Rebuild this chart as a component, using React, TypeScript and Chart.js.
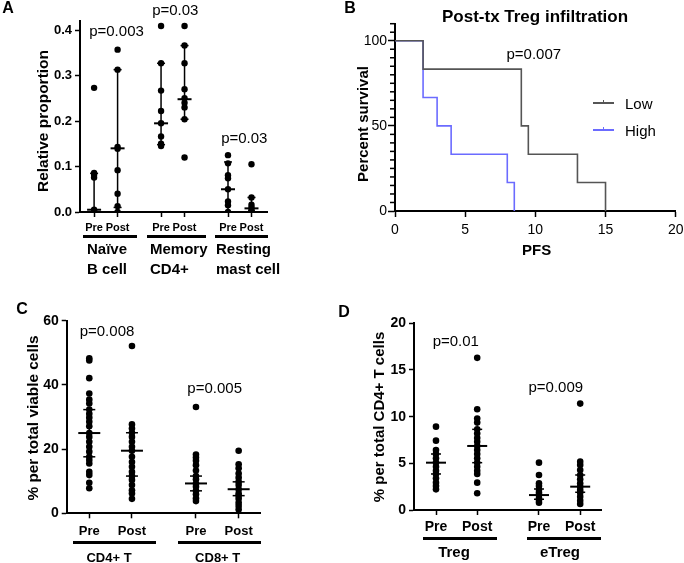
import React, { useEffect, useRef } from 'react';
import { Chart, registerables } from 'chart.js';

Chart.register(...registerables);

const FONT = '"Liberation Sans", Arial, Helvetica, sans-serif';

// ===== Panel A =====
const aXPositions = [0, 1, 2.85, 3.85, 5.7, 6.7];
const aXTickLabels = ['Pre', 'Post', 'Pre', 'Post', 'Pre', 'Post'];
const aYTicks = [0, 0.1, 0.2, 0.3, 0.4];
const aNaiveBPre = [0.273, 0.086, 0.082, 0.076, 0.005, 0.003, 0.0, 0.0];
const aNaiveBPost = [0.357, 0.313, 0.143, 0.139, 0.092, 0.04, 0.013, 0.0];
const aMemoryCD4Pre = [0.409, 0.327, 0.267, 0.222, 0.195, 0.166, 0.15, 0.145];
const aMemoryCD4Post = [0.409, 0.366, 0.327, 0.27, 0.25, 0.24, 0.23, 0.204, 0.12];
const aRestingMastPre = [0.125, 0.107, 0.081, 0.074, 0.05, 0.023, 0.015, 0.0];
const aRestingMastPost = [0.105, 0.032, 0.016, 0.01, 0.005, 0.0, 0.0, 0.0];
const aMedians = [0.005, 0.14, 0.195, 0.248, 0.05, 0.008];
const aLower = [0.0, 0.01, 0.148, 0.204, 0.0, 0.0];
const aUpper = [0.085, 0.313, 0.327, 0.366, 0.11, 0.032];
const aGroupNames = [['Naïve', 'B cell'], ['Memory', 'CD4+'], ['Resting', 'mast cell']];
const aPValues = ['p=0.003', 'p=0.03', 'p=0.03'];

// ===== Panel B =====
const bLowTimes = [0, 2, 9, 9.5, 13, 15];
const bLowSurvival = [100, 83.3, 50, 33.3, 16.7, 0];
const bHighTimes = [0, 2, 3, 4, 8, 8.5];
const bHighSurvival = [100, 66.7, 50, 33.3, 16.7, 0];
const bXTicks = [0, 5, 10, 15, 20];
const bYTicks = [0, 50, 100];
const bYMinorStep = 5;
const bSeriesNames = ['Low', 'High'];

// ===== Panel C =====
const cXPositions = [0, 1, 2.5, 3.5];
const cXTickLabels = ['Pre', 'Post', 'Pre', 'Post'];
const cYTicks = [0, 20, 40, 60];
const cCD4Pre = [48.3, 47.6, 42.1, 37.3, 35.4, 34.2, 32.3, 31.0, 29.8, 28.5, 27.1, 25.0, 23.8, 22.3, 20.7, 19.2, 17.6, 16.6, 15.5, 12.9, 11.9, 9.5, 7.8];
const cCD4Post = [52.1, 27.7, 26.4, 25.1, 23.8, 22.3, 20.7, 19.5, 17.6, 16.0, 14.5, 12.9, 11.6, 10.4, 8.8, 7.2, 6.2, 4.5];
const cCD8Pre = [33.1, 18.3, 17.4, 16.4, 15.0, 13.3, 11.6, 10.6, 9.3, 8.3, 7.0, 5.9, 4.7, 3.8];
const cCD8Post = [19.5, 15.3, 14.0, 12.4, 11.1, 9.8, 8.8, 7.5, 6.2, 5.5, 4.5, 3.3, 2.3, 1.2];
const cMedians = [25.0, 19.5, 9.3, 7.5];
const cLower = [17.6, 11.6, 7.0, 5.5];
const cUpper = [32.3, 25.1, 11.6, 9.8];
const cGroupNames = ['CD4+ T', 'CD8+ T'];
const cPValues = ['p=0.008', 'p=0.005'];

// ===== Panel D =====
const dXPositions = [0, 1, 2.5, 3.5];
const dXTickLabels = ['Pre', 'Post', 'Pre', 'Post'];
const dYTicks = [0, 5, 10, 15, 20];
const dTregPre = [8.93, 7.43, 6.43, 6.0, 5.54, 5.07, 4.64, 4.21, 3.86, 3.39, 2.93, 2.57, 2.21];
const dTregPost = [16.3, 10.8, 9.8, 9.36, 8.64, 8.2, 7.7, 7.3, 6.86, 6.43, 6.0, 5.54, 5.07, 4.64, 4.2, 3.86, 2.93, 1.79];
const dETregPre = [5.07, 3.75, 2.86, 2.57, 2.2, 1.86, 1.6, 1.25, 1.07, 0.79];
const dETregPost = [11.4, 5.18, 4.82, 4.29, 3.75, 3.29, 2.86, 2.5, 2.14, 1.86, 1.43, 1.0, 0.64];
const dMedians = [5.07, 6.86, 1.6, 2.5];
const dLower = [3.86, 5.07, 1.15, 1.9];
const dUpper = [6.0, 8.64, 2.25, 3.75];
const dGroupNames = ['Treg', 'eTreg'];
const dPValues = ['p=0.01', 'p=0.009'];

const LOW_COLOR = '#555555';
const HIGH_COLOR = '#6b6bff';

type Box = { left: number; top: number; right: number; bottom: number };

function fitY(size: number) {
  return (s: any) => {
    s.width = size;
    s.paddingLeft = 0; s.paddingRight = 0; s.paddingTop = 0; s.paddingBottom = 0;
  };
}
function fitX(size: number) {
  return (s: any) => {
    s.height = size;
    s.paddingLeft = 0; s.paddingRight = 0; s.paddingTop = 0; s.paddingBottom = 0;
  };
}
function axisLook(tickLength: number) {
  return {
    grid: { display: true, drawOnChartArea: false, drawTicks: true, tickLength, tickColor: '#000', tickWidth: 1.5, color: '#000' },
    border: { display: true, color: '#000', width: 2 },
  };
}
function padFor(w: number, h: number, area: Box, yW: number, xH: number) {
  return { left: area.left - yW, top: area.top, right: w - area.right, bottom: h - area.bottom - xH };
}

interface SwarmSpec {
  w: number; h: number; area: Box; yW: number; xH: number;
  xMin: number; xMax: number; xPos: number[]; xLabels: string[]; xFont: number; xPad: number;
  yMin: number; yMax: number; yTicks: number[]; yFont: number; yPad: number; yFmt: (v: number) => string;
  series: number[][]; med: number[]; lo: number[]; hi: number[];
  r: number; medHalf: number; capHalf: number;
}

function swarmConfig(p: SwarmSpec): any {
  const datasets = p.series.map((vals, i) => ({
    data: vals.map((v) => ({ x: p.xPos[i], y: v })),
    backgroundColor: '#000',
    borderColor: '#000',
    borderWidth: 0,
    pointRadius: p.r,
    pointHoverRadius: p.r,
  }));
  const errorBars = {
    id: 'errorBars',
    afterDatasetsDraw(chart: any) {
      const { ctx, scales } = chart;
      const xs = scales.x;
      const ys = scales.y;
      const seg = (x1: number, y1: number, x2: number, y2: number) => {
        ctx.beginPath(); ctx.moveTo(x1, y1); ctx.lineTo(x2, y2); ctx.stroke();
      };
      ctx.save();
      ctx.strokeStyle = '#000';
      p.xPos.forEach((xv, i) => {
        const px = xs.getPixelForValue(xv);
        const pm = ys.getPixelForValue(p.med[i]);
        const pl = ys.getPixelForValue(p.lo[i]);
        const ph = ys.getPixelForValue(p.hi[i]);
        ctx.lineWidth = 1.5;
        seg(px, pl, px, ph);
        seg(px - p.capHalf, pl, px + p.capHalf, pl);
        seg(px - p.capHalf, ph, px + p.capHalf, ph);
        ctx.lineWidth = 2;
        seg(px - p.medHalf, pm, px + p.medHalf, pm);
      });
      ctx.restore();
    },
  };
  return {
    type: 'scatter',
    data: { datasets },
    options: {
      responsive: false,
      animation: false,
      events: [],
      layout: { padding: padFor(p.w, p.h, p.area, p.yW, p.xH) },
      plugins: { legend: { display: false }, tooltip: { enabled: false } },
      scales: {
        x: {
          type: 'linear', min: p.xMin, max: p.xMax,
          afterBuildTicks: (s: any) => { s.ticks = p.xPos.map((v) => ({ value: v })); },
          afterFit: fitX(p.xH),
          ticks: {
            autoSkip: false, maxRotation: 0, color: '#000', padding: p.xPad,
            font: { family: FONT, size: p.xFont, weight: 'bold' },
            callback: (_v: any, i: number) => p.xLabels[i],
          },
          ...axisLook(5),
        },
        y: {
          type: 'linear', min: p.yMin, max: p.yMax,
          afterBuildTicks: (s: any) => { s.ticks = p.yTicks.map((v) => ({ value: v })); },
          afterFit: fitY(p.yW),
          ticks: {
            color: '#000', padding: p.yPad,
            font: { family: FONT, size: p.yFont, weight: 'bold' },
            callback: (v: any) => p.yFmt(Number(v)),
          },
          ...axisLook(5),
        },
      },
    },
    plugins: [errorBars],
  };
}

function kmConfig(): any {
  const w = 344, h = 280;
  const area = { left: 55, top: 23.7, right: 335.7, bottom: 211 };
  const yW = 40, xH = 45;
  const minorTicks = {
    id: 'minorTicks',
    afterDraw(chart: any) {
      const { ctx, chartArea, scales } = chart;
      const ys = scales.y;
      ctx.save();
      ctx.strokeStyle = '#000';
      ctx.lineWidth = 1.5;
      for (let v = ys.min; v <= ys.max + 1e-9; v += bYMinorStep) {
        if (bYTicks.includes(v)) continue;
        const py = ys.getPixelForValue(v);
        ctx.beginPath();
        ctx.moveTo(chartArea.left - 5, py);
        ctx.lineTo(chartArea.left, py);
        ctx.stroke();
      }
      ctx.restore();
    },
  };
  return {
    type: 'scatter',
    data: {
      datasets: [
        {
          label: bSeriesNames[0],
          data: bLowTimes.map((t, i) => ({ x: t, y: bLowSurvival[i] })),
          showLine: true, stepped: 'before', borderColor: LOW_COLOR, borderWidth: 1.6,
          pointRadius: 0, fill: false,
        },
        {
          label: bSeriesNames[1],
          data: bHighTimes.map((t, i) => ({ x: t, y: bHighSurvival[i] })),
          showLine: true, stepped: 'before', borderColor: HIGH_COLOR, borderWidth: 1.6,
          pointRadius: 0, fill: false,
        },
      ],
    },
    options: {
      responsive: false,
      animation: false,
      events: [],
      layout: { padding: padFor(w, h, area, yW, xH) },
      plugins: { legend: { display: false }, tooltip: { enabled: false } },
      scales: {
        x: {
          type: 'linear', min: 0, max: 20,
          afterBuildTicks: (s: any) => { s.ticks = bXTicks.map((v) => ({ value: v })); },
          afterFit: fitX(xH),
          ticks: { autoSkip: false, maxRotation: 0, color: '#000', padding: 5, font: { family: FONT, size: 14 } },
          ...axisLook(6),
        },
        y: {
          type: 'linear', min: 0, max: 110,
          afterBuildTicks: (s: any) => { s.ticks = bYTicks.map((v) => ({ value: v })); },
          afterFit: fitY(yW),
          ticks: { color: '#000', padding: 1, font: { family: FONT, size: 14 } },
          ...axisLook(7),
        },
      },
    },
    plugins: [minorTicks],
  };
}

function ChartCanvas(props: { left: number; top: number; width: number; height: number; build: () => any }) {
  const ref = useRef<HTMLCanvasElement | null>(null);
  useEffect(() => {
    const chart = new Chart(ref.current as HTMLCanvasElement, props.build());
    return () => chart.destroy();
  }, []);
  return (
    <canvas
      ref={ref}
      width={props.width}
      height={props.height}
      style={{ position: 'absolute', left: props.left, top: props.top, width: props.width, height: props.height }}
    />
  );
}

function T(props: { x: number; y: number; size: number; bold?: boolean; rotate?: boolean; left?: boolean; children: React.ReactNode }) {
  const tx = props.left ? '0' : '-50%';
  return (
    <div
      style={{
        position: 'absolute', left: props.x, top: props.y, fontSize: props.size,
        fontWeight: props.bold ? 700 : 400, lineHeight: 1, whiteSpace: 'nowrap',
        fontFamily: FONT, color: '#000',
        transform: `translate(${tx}, -50%)` + (props.rotate ? ' rotate(-90deg)' : ''),
      }}
    >
      {props.children}
    </div>
  );
}

function Bar(props: { x1: number; x2: number; y: number }) {
  return <div style={{ position: 'absolute', left: props.x1, top: props.y - 1.5, width: props.x2 - props.x1, height: 3, background: '#000' }} />;
}

function LegendItem(props: { y: number; color: string; label: string }) {
  return (
    <>
      <div style={{ position: 'absolute', left: 593, top: props.y - 0.75, width: 21, height: 1.5, background: props.color }} />
      <div style={{ position: 'absolute', left: 602.5, top: props.y - 3.5, width: 1.2, height: 3.5, background: props.color }} />
      <T x={625} y={props.y} size={15} left>{props.label}</T>
    </>
  );
}

export default function App() {
  const buildA = () => swarmConfig({
    w: 340, h: 280, area: { left: 80, top: 21, right: 267, bottom: 212 }, yW: 40, xH: 40,
    xMin: -0.6, xMax: 7.36, xPos: aXPositions, xLabels: aXTickLabels, xFont: 11, xPad: 4,
    yMin: 0, yMax: 0.42, yTicks: aYTicks, yFont: 13, yPad: 3, yFmt: (v) => v.toFixed(1),
    series: [aNaiveBPre, aNaiveBPost, aMemoryCD4Pre, aMemoryCD4Post, aRestingMastPre, aRestingMastPost],
    med: aMedians, lo: aLower, hi: aUpper, r: 3.2, medHalf: 7, capHalf: 4,
  });
  const buildC = () => swarmConfig({
    w: 340, h: 283, area: { left: 66.7, top: 40.7, right: 260, bottom: 233.3 }, yW: 40, xH: 30,
    xMin: -0.529, xMax: 4.0, xPos: cXPositions, xLabels: cXTickLabels, xFont: 13, xPad: 5,
    yMin: 0, yMax: 60, yTicks: cYTicks, yFont: 14, yPad: 3, yFmt: (v) => String(v),
    series: [cCD4Pre, cCD4Post, cCD8Pre, cCD8Post],
    med: cMedians, lo: cLower, hi: cUpper, r: 3.3, medHalf: 11, capHalf: 6,
  });
  const buildD = () => swarmConfig({
    w: 344, h: 283, area: { left: 74, top: 43.3, right: 261, bottom: 230 }, yW: 40, xH: 30,
    xMin: -0.534, xMax: 4.005, xPos: dXPositions, xLabels: dXTickLabels, xFont: 14, xPad: 3.5,
    yMin: 0, yMax: 20, yTicks: dYTicks, yFont: 14, yPad: 3, yFmt: (v) => String(v),
    series: [dTregPre, dTregPost, dETregPre, dETregPost],
    med: dMedians, lo: dLower, hi: dUpper, r: 3.3, medHalf: 10, capHalf: 5,
  });

  return (
    <div style={{ position: 'fixed', left: 0, top: 0, width: 684, height: 563, background: '#fff', overflow: 'hidden', fontFamily: FONT }}>
      <ChartCanvas left={0} top={0} width={340} height={280} build={buildA} />
      <ChartCanvas left={340} top={0} width={344} height={280} build={kmConfig} />
      <ChartCanvas left={0} top={280} width={340} height={283} build={buildC} />
      <ChartCanvas left={340} top={280} width={344} height={283} build={buildD} />

      {/* Panel A texts */}
      <T x={8} y={8} size={16} bold>A</T>
      <T x={43} y={121} size={15.5} bold rotate>Relative proportion</T>
      <T x={116.5} y={30} size={15}>{aPValues[0]}</T>
      <T x={175.3} y={8.5} size={15}>{aPValues[1]}</T>
      <T x={244.3} y={136.7} size={15}>{aPValues[2]}</T>
      <Bar x1={83} x2={137} y={236} />
      <Bar x1={147} x2={206} y={236} />
      <Bar x1={215} x2={268} y={236} />
      <T x={87} y={248} size={15} bold left>{aGroupNames[0][0]}</T>
      <T x={87} y={268} size={15} bold left>{aGroupNames[0][1]}</T>
      <T x={150} y={248} size={15} bold left>{aGroupNames[1][0]}</T>
      <T x={150} y={268} size={15} bold left>{aGroupNames[1][1]}</T>
      <T x={216} y={248} size={15} bold left>{aGroupNames[2][0]}</T>
      <T x={216} y={268} size={15} bold left>{aGroupNames[2][1]}</T>

      {/* Panel B texts */}
      <T x={350} y={8} size={16} bold>B</T>
      <T x={535} y={16} size={17} bold>Post-tx Treg infiltration</T>
      <T x={361.7} y={124} size={15} bold rotate>Percent survival</T>
      <T x={536.7} y={249} size={15} bold>PFS</T>
      <T x={533.8} y={53.3} size={15}>p=0.007</T>
      <LegendItem y={103} color={LOW_COLOR} label={bSeriesNames[0]} />
      <LegendItem y={130} color={HIGH_COLOR} label={bSeriesNames[1]} />

      {/* Panel C texts */}
      <T x={22} y={309} size={16} bold>C</T>
      <T x={33.3} y={417.5} size={15.4} bold rotate>% per total viable cells</T>
      <T x={107} y={330} size={15}>{cPValues[0]}</T>
      <T x={214.7} y={387.3} size={15}>{cPValues[1]}</T>
      <Bar x1={73} x2={156} y={542} />
      <Bar x1={178} x2={261} y={542} />
      <T x={109} y={557.3} size={13} bold>{cGroupNames[0]}</T>
      <T x={217.7} y={557.3} size={13} bold>{cGroupNames[1]}</T>

      {/* Panel D texts */}
      <T x={344} y={312} size={16} bold>D</T>
      <T x={378.3} y={417} size={15} bold rotate>% per total CD4+ T cells</T>
      <T x={455.8} y={340} size={15}>{dPValues[0]}</T>
      <T x={555.8} y={386} size={15}>{dPValues[1]}</T>
      <Bar x1={423} x2={497} y={538} />
      <Bar x1={527} x2={601} y={538} />
      <T x={454} y={551} size={15} bold>{dGroupNames[0]}</T>
      <T x={560} y={551} size={15} bold>{dGroupNames[1]}</T>
    </div>
  );
}
